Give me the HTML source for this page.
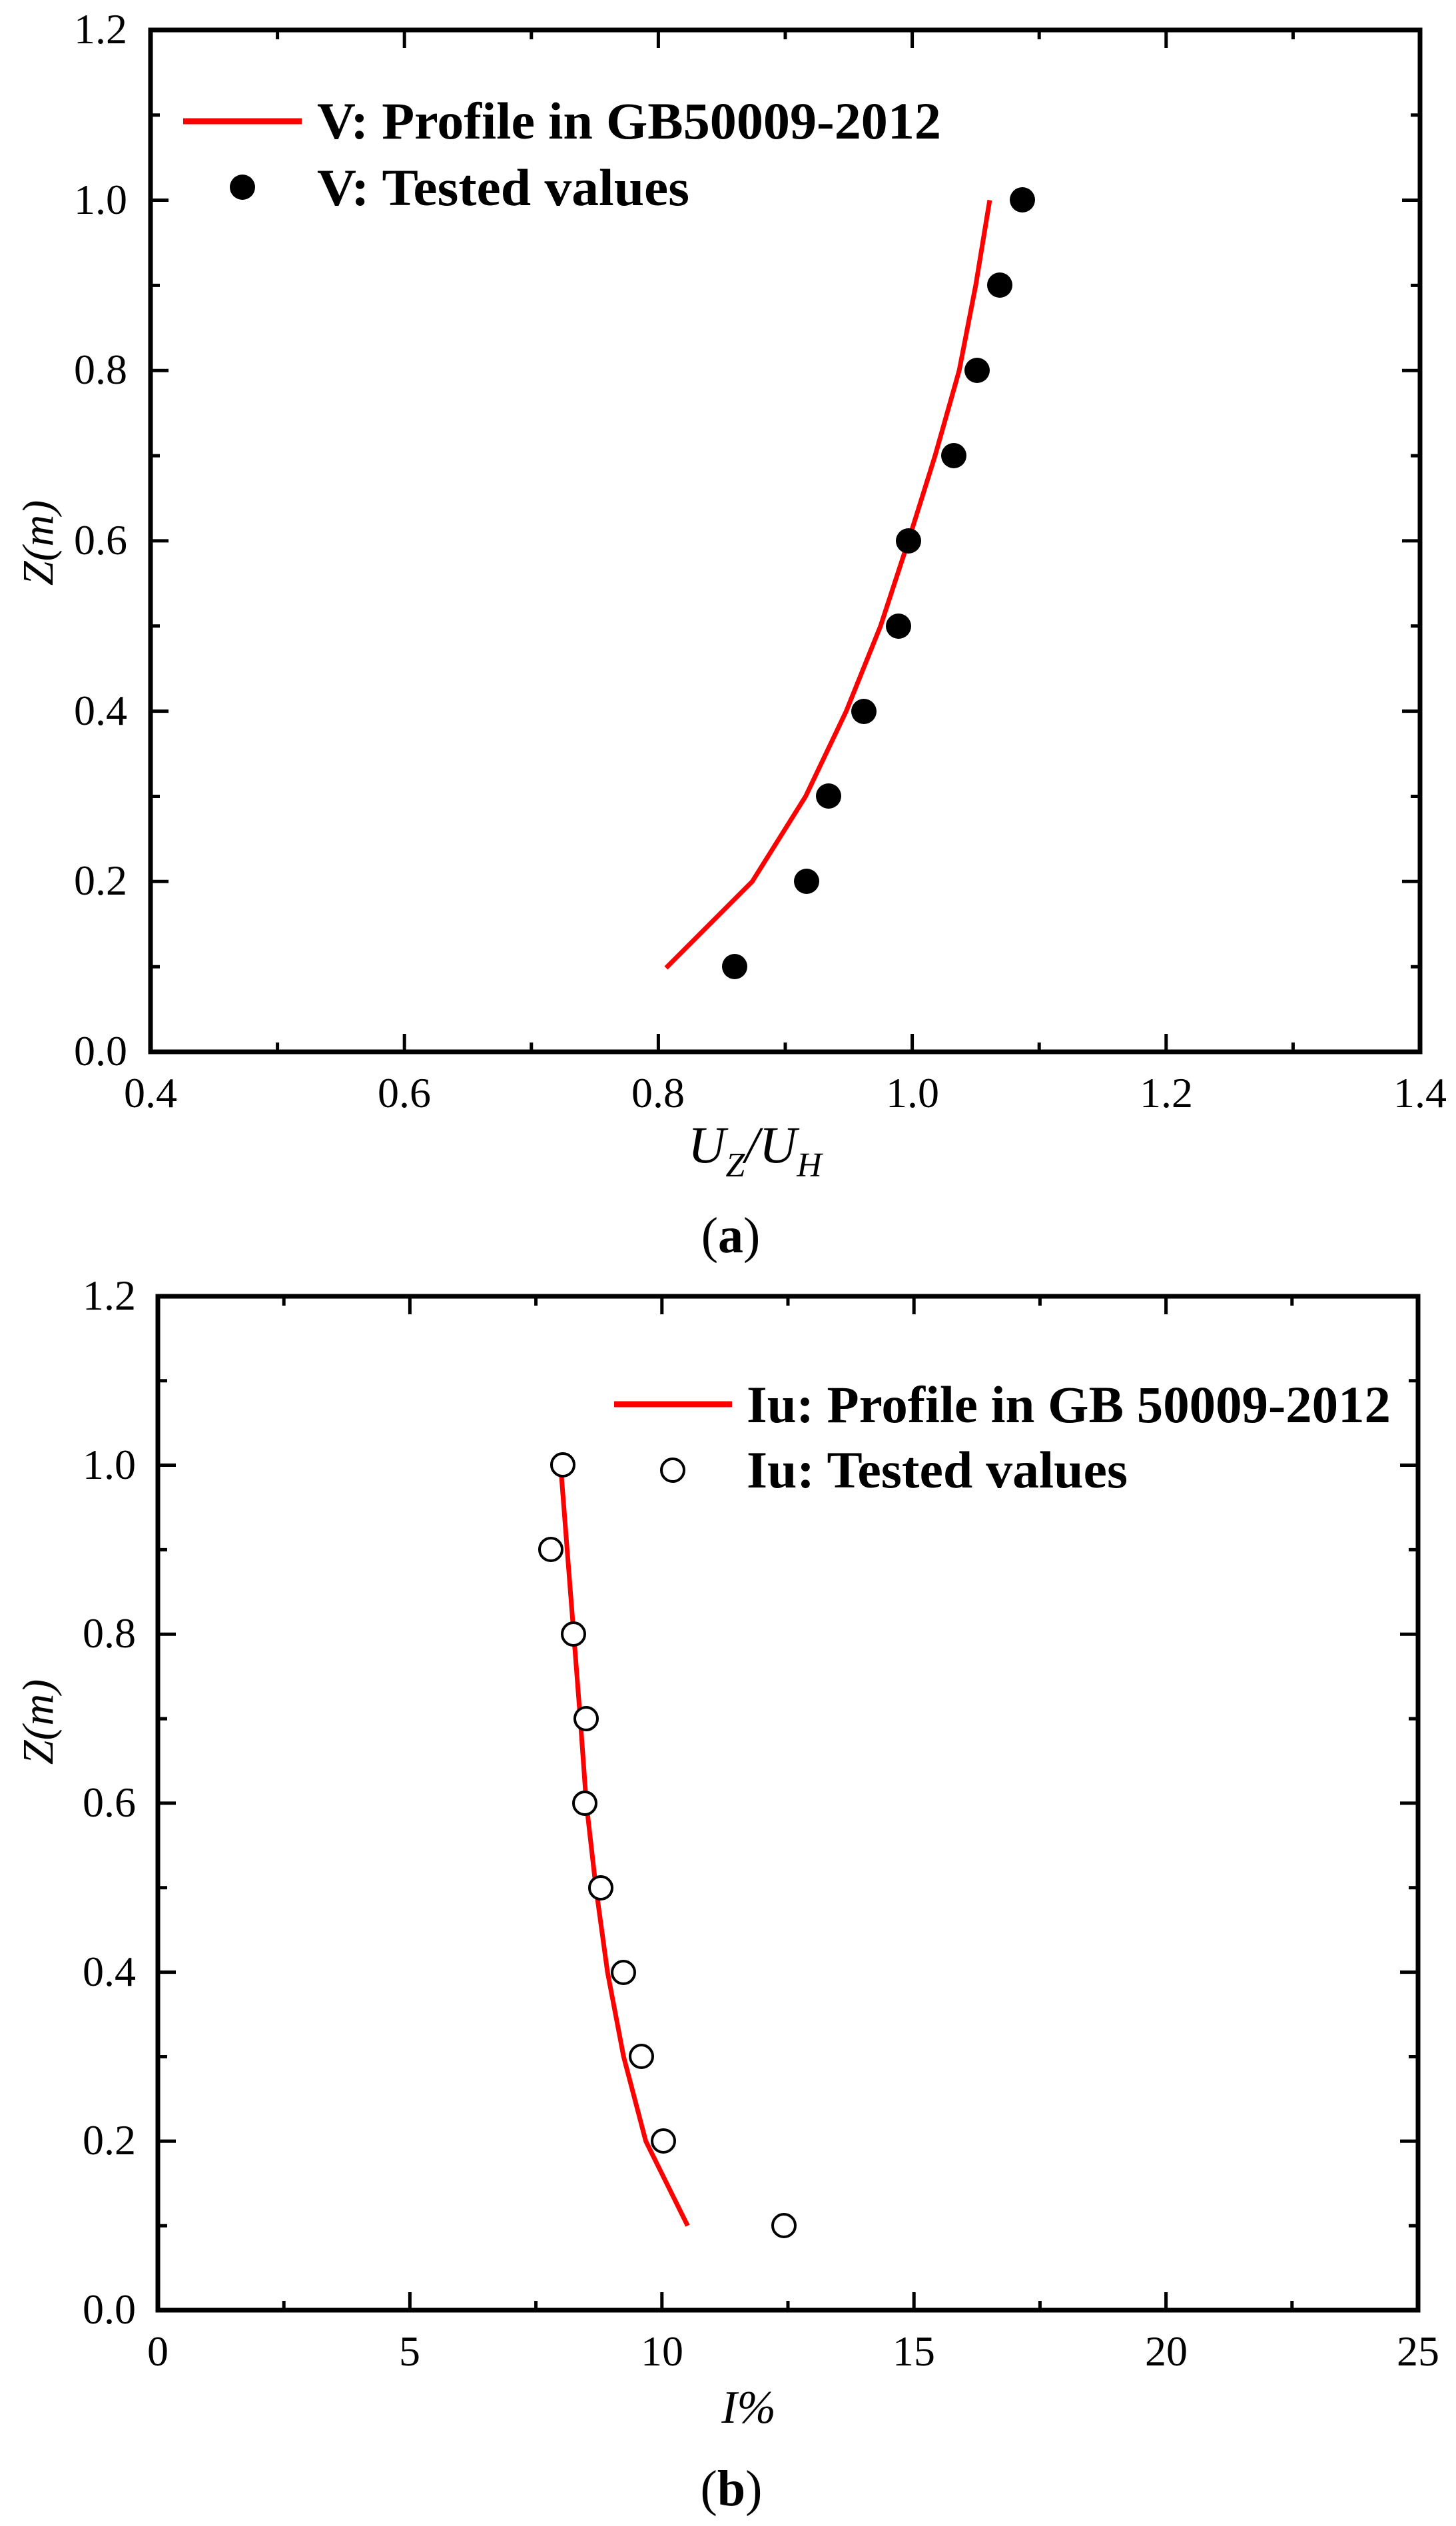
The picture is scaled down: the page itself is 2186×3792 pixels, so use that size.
<!DOCTYPE html>
<html><head><meta charset="utf-8"><style>
html,body{margin:0;padding:0;background:#fff;}
svg{display:block;}
text{font-family:"Liberation Serif",serif;fill:#000;}
</style></head><body>
<svg width="2186" height="3792" viewBox="0 0 2186 3792" xmlns="http://www.w3.org/2000/svg">
<rect width="2186" height="3792" fill="#fff"/>
<!-- ===== Plot (a) ===== -->
<g stroke="#000" fill="none" stroke-linecap="butt">
<rect x="226" y="45" width="1906" height="1534" stroke-width="7"/>
<!-- x ticks bottom and top -->
<path stroke-width="5" d="
M226 1579v-27 M607.2 1579v-27 M988.4 1579v-27 M1369.6 1579v-27 M1750.8 1579v-27 M2132 1579v-27
M416.6 1579v-14 M797.8 1579v-14 M1179 1579v-14 M1560.2 1579v-14 M1941.4 1579v-14
M607.2 45v27 M988.4 45v27 M1369.6 45v27 M1750.8 45v27
M416.6 45v14 M797.8 45v14 M1179 45v14 M1560.2 45v14 M1941.4 45v14
M226 1323.3h27 M226 1067.6h27 M226 811.9h27 M226 556.2h27 M226 300.5h27
M226 1451.2h14 M226 1195.5h14 M226 939.8h14 M226 684.1h14 M226 428.4h14 M226 172.7h14
M2132 1323.3h-27 M2132 1067.6h-27 M2132 811.9h-27 M2132 556.2h-27 M2132 300.5h-27
M2132 1451.2h-14 M2132 1195.5h-14 M2132 939.8h-14 M2132 684.1h-14 M2132 428.4h-14 M2132 172.7h-14"/>
</g>
<g font-size="64" text-anchor="end">
<text x="191" y="1599">0.0</text>
<text x="191" y="1343">0.2</text>
<text x="191" y="1088">0.4</text>
<text x="191" y="832">0.6</text>
<text x="191" y="576">0.8</text>
<text x="191" y="321">1.0</text>
<text x="191" y="65">1.2</text>
</g>
<g font-size="64" text-anchor="middle">
<text x="226" y="1662">0.4</text>
<text x="607" y="1662">0.6</text>
<text x="988" y="1662">0.8</text>
<text x="1370" y="1662">1.0</text>
<text x="1751" y="1662">1.2</text>
<text x="2132" y="1662">1.4</text>
</g>
<text transform="translate(79,815) rotate(-90)" font-size="66" font-style="italic" text-anchor="middle">Z(m)</text>
<text x="1033" y="1745" font-size="78" font-style="italic">U<tspan font-size="52" dy="21">Z</tspan><tspan font-size="78" dy="-21">/U</tspan><tspan font-size="52" dy="21">H</tspan></text>
<text x="1097" y="1880" font-size="76" text-anchor="middle">(<tspan font-weight="bold">a</tspan>)</text>
<polyline fill="none" stroke="#f00" stroke-width="7" stroke-linejoin="round" points="1000,1453 1129.4,1323.3 1209.5,1195.5 1270.5,1067.6 1322,939.8 1363.9,811.9 1403.9,684.1 1440.1,556.2 1464.9,428.4 1485.9,300.5"/>
<g fill="#000">
<circle cx="1103" cy="1451" r="19"/>
<circle cx="1211" cy="1323" r="19"/>
<circle cx="1244" cy="1195" r="19"/>
<circle cx="1297" cy="1068" r="19"/>
<circle cx="1349" cy="940" r="19"/>
<circle cx="1364" cy="812" r="19"/>
<circle cx="1432" cy="684" r="19"/>
<circle cx="1467" cy="556" r="19"/>
<circle cx="1501" cy="428" r="19"/>
<circle cx="1535" cy="300" r="19"/>
</g>
<line x1="275" y1="182" x2="453" y2="182" stroke="#f00" stroke-width="9"/>
<circle cx="364" cy="281" r="19" fill="#000"/>
<text x="476" y="208" font-size="78" font-weight="bold" textLength="937" lengthAdjust="spacingAndGlyphs">V: Profile in GB50009-2012</text>
<text x="476" y="308" font-size="78" font-weight="bold" textLength="559" lengthAdjust="spacingAndGlyphs">V: Tested values</text>

<!-- ===== Plot (b) ===== -->
<g stroke="#000" fill="none">
<rect x="237" y="1946" width="1892" height="1522" stroke-width="7"/>
<path stroke-width="5" d="
M237 3468v-27 M615.4 3468v-27 M993.8 3468v-27 M1372.2 3468v-27 M1750.6 3468v-27 M2129 3468v-27
M426.2 3468v-14 M804.6 3468v-14 M1183 3468v-14 M1561.4 3468v-14 M1939.8 3468v-14
M615.4 1946v27 M993.8 1946v27 M1372.2 1946v27 M1750.6 1946v27
M426.2 1946v14 M804.6 1946v14 M1183 1946v14 M1561.4 1946v14 M1939.8 1946v14
M237 3214.3h27 M237 2960.6h27 M237 2706.9h27 M237 2453.2h27 M237 2199.5h27
M237 3341.2h14 M237 3087.5h14 M237 2833.8h14 M237 2580.1h14 M237 2326.4h14 M237 2072.7h14
M2129 3214.3h-27 M2129 2960.6h-27 M2129 2706.9h-27 M2129 2453.2h-27 M2129 2199.5h-27
M2129 3341.2h-14 M2129 3087.5h-14 M2129 2833.8h-14 M2129 2580.1h-14 M2129 2326.4h-14 M2129 2072.7h-14"/>
</g>
<g font-size="64" text-anchor="end">
<text x="204" y="3488">0.0</text>
<text x="204" y="3234">0.2</text>
<text x="204" y="2981">0.4</text>
<text x="204" y="2727">0.6</text>
<text x="204" y="2473">0.8</text>
<text x="204" y="2220">1.0</text>
<text x="204" y="1966">1.2</text>
</g>
<g font-size="64" text-anchor="middle">
<text x="237" y="3551">0</text>
<text x="615" y="3551">5</text>
<text x="994" y="3551">10</text>
<text x="1372" y="3551">15</text>
<text x="1751" y="3551">20</text>
<text x="2129" y="3551">25</text>
</g>
<text transform="translate(79,2585) rotate(-90)" font-size="66" font-style="italic" text-anchor="middle">Z(m)</text>
<text x="1124" y="3637" font-size="70" font-style="italic" text-anchor="middle">I%</text>
<text x="1098" y="3761" font-size="76" text-anchor="middle">(<tspan font-weight="bold">b</tspan>)</text>
<polyline fill="none" stroke="#f00" stroke-width="7" stroke-linejoin="round" points="1032.4,3341.2 969.6,3214.3 936.3,3087.5 912.1,2960.6 894.7,2833.8 880.3,2706.9 871.2,2580.1 861.4,2453.2 851.5,2326.4 841.7,2199.5"/>
<g fill="#fff" stroke="#000" stroke-width="4">
<circle cx="1177" cy="3341" r="17"/>
<circle cx="996" cy="3214" r="17"/>
<circle cx="963" cy="3087" r="17"/>
<circle cx="936" cy="2961" r="17"/>
<circle cx="902" cy="2834" r="17"/>
<circle cx="878" cy="2707" r="17"/>
<circle cx="880" cy="2580" r="17"/>
<circle cx="861" cy="2453" r="17"/>
<circle cx="827" cy="2326" r="17"/>
<circle cx="845" cy="2199" r="17"/>
<circle cx="1010" cy="2207" r="17"/>
</g>
<line x1="922" y1="2108" x2="1099" y2="2108" stroke="#f00" stroke-width="9"/>
<text x="1121" y="2135" font-size="78" font-weight="bold" textLength="967" lengthAdjust="spacingAndGlyphs">Iu: Profile in GB 50009-2012</text>
<text x="1121" y="2233" font-size="78" font-weight="bold" textLength="572" lengthAdjust="spacingAndGlyphs">Iu: Tested values</text>
</svg>
</body></html>
